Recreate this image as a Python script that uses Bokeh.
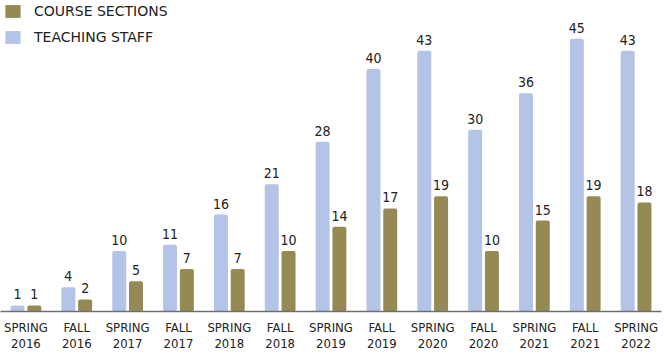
from bokeh.plotting import figure
from bokeh.models import ColumnDataSource, FactorRange, Legend, LegendItem
from bokeh.core.properties import value
from bokeh.transform import dodge
from bokeh.embed import file_html
from bokeh.resources import INLINE

terms = ["SPRING\n2016", "FALL\n2016", "SPRING\n2017", "FALL\n2017", "SPRING\n2018",
         "FALL\n2018", "SPRING\n2019", "FALL\n2019", "SPRING\n2020", "FALL\n2020",
         "SPRING\n2021", "FALL\n2021", "SPRING\n2022"]
teaching_staff = [1, 4, 10, 11, 16, 21, 28, 40, 43, 30, 36, 45, 43]
course_sections = [1, 2, 5, 7, 7, 10, 14, 17, 19, 10, 15, 19, 18]

FONT = "DejaVu Sans Condensed"
BLUE = "#b4c4e6"
OLIVE = "#958a53"

src = ColumnDataSource(dict(
    term=terms,
    staff=teaching_staff,
    sections=course_sections,
    staff_lbl=[str(v) for v in teaching_staff],
    sec_lbl=[str(v) for v in course_sections],
))

p = figure(width=664, height=354, x_range=FactorRange(*terms, range_padding=0),
           y_range=(0, 51.3), output_backend="svg", toolbar_location=None,
           min_border_left=0, min_border_right=3, min_border_top=0, min_border_bottom=0)
p.outline_line_color = None
p.xgrid.visible = False
p.ygrid.visible = False
p.yaxis.visible = False
p.background_fill_color = "white"
p.border_fill_color = "white"

r_staff = p.vbar(x=dodge("term", -0.165, range=p.x_range), top="staff", width=0.275,
                 source=src, fill_color=BLUE, line_color=None, border_radius=2)
r_sec = p.vbar(x=dodge("term", 0.165, range=p.x_range), top="sections", width=0.275,
               source=src, fill_color=OLIVE, line_color=None, border_radius=2)

for col, lbl, off in (("staff", "staff_lbl", -0.165), ("sections", "sec_lbl", 0.165)):
    p.text(x=dodge("term", off, range=p.x_range), y=col, text=lbl, source=src,
           text_align="center", text_baseline="bottom", y_offset=-6,
           text_font=value(FONT), text_font_size="14px", text_color="#222222")

ax = p.xaxis[0]
ax.axis_line_color = "#6e6e6e"
ax.axis_line_width = 1.5
ax.major_tick_line_color = None
ax.minor_tick_line_color = None
ax.major_tick_in = 0
ax.major_tick_out = 0
ax.major_label_standoff = 8
ax.major_label_text_font = FONT
ax.major_label_text_font_size = "13px"
ax.major_label_text_color = "#222222"
ax.major_label_text_line_height = 1.1

legend = Legend(items=[LegendItem(label="COURSE SECTIONS", renderers=[r_sec]),
                       LegendItem(label="TEACHING STAFF", renderers=[r_staff])],
                location="top_left", border_line_color=None, background_fill_alpha=0,
                glyph_width=19, glyph_height=16, label_text_font="DejaVu Sans",
                label_text_font_size="14px", label_text_color="#222222",
                margin=3, padding=2, spacing=10, label_standoff=12)
p.add_layout(legend)

open("out.html", "w").write(file_html(p, INLINE))
